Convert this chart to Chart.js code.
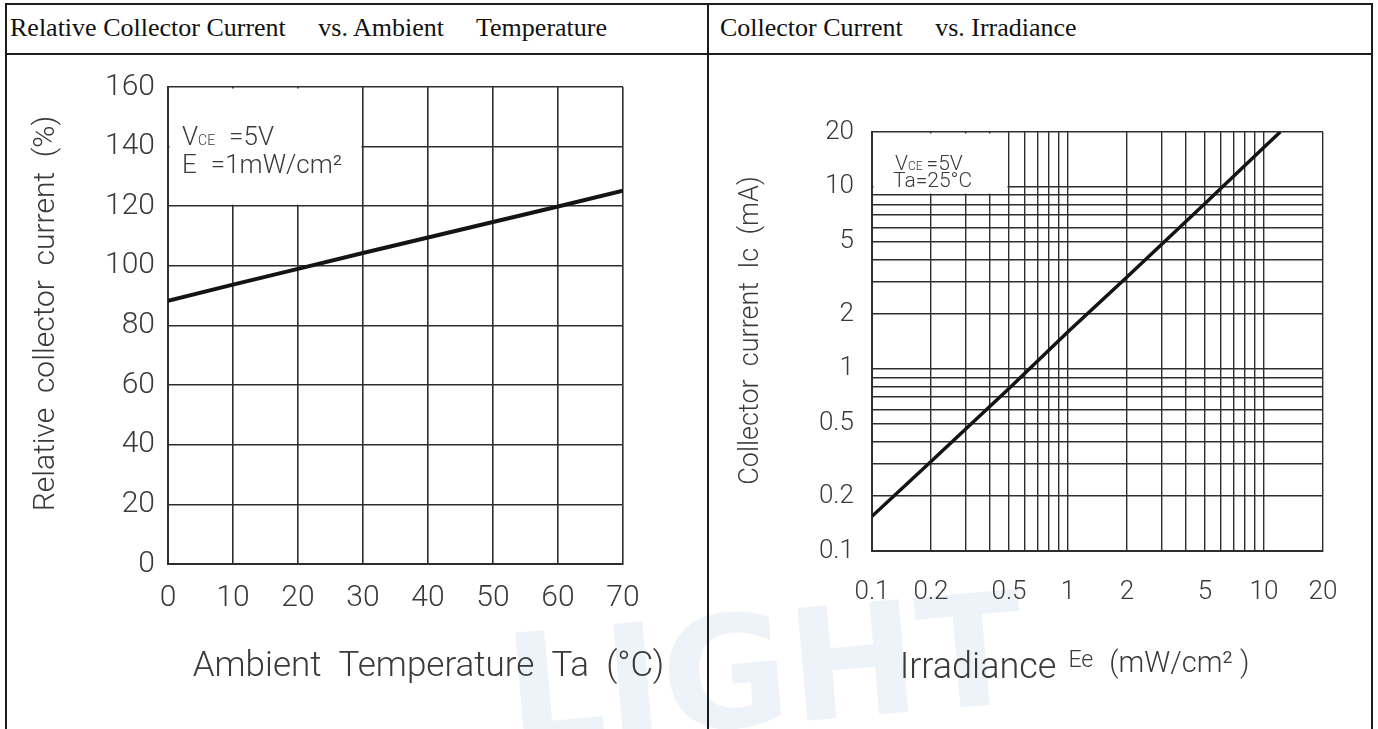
<!DOCTYPE html>
<html>
<head>
<meta charset="utf-8">
<script src="https://cdn.jsdelivr.net/npm/chart.js@4.4.1/dist/chart.umd.min.js"></script>
<style>
  html, body { margin: 0; padding: 0; background: #fff; }
  #page { position: relative; width: 1378px; height: 729px; overflow: hidden; }
  .rule { position: absolute; background: #1c1c1c; }
  .head { position: absolute; top: 13px; font: 26px "Liberation Serif", "Times New Roman", serif;
          color: #111; white-space: pre; line-height: 30px; }
  .wm { position: absolute; left: 505px; top: 580px; font: bold 155px "DejaVu Sans", sans-serif;
        color: #edf3f9; transform: rotate(-5deg); white-space: pre; }
  canvas { position: absolute; top: 56px; }
</style>
</head>
<body>
<div id="page">
  <div class="wm">LIGHT</div>

  <div class="rule" style="left:5px;top:3px;width:1368px;height:2px"></div>
  <div class="rule" style="left:5px;top:53px;width:1368px;height:2px"></div>
  <div class="rule" style="left:5px;top:3px;width:2px;height:726px"></div>
  <div class="rule" style="left:707px;top:3px;width:2px;height:726px"></div>
  <div class="rule" style="left:1371px;top:3px;width:2px;height:726px"></div>

  <div class="head" style="left:10px">Relative Collector Current     vs. Ambient     Temperature</div>
  <div class="head" style="left:720px">Collector Current     vs. Irradiance</div>

  <canvas id="tempChart" width="698" height="673" style="left:7px"></canvas>
  <canvas id="irrChart" width="661" height="673" style="left:709px"></canvas>
</div>

<script>
// left: relative collector current vs ambient temperature
const tempC = [0, 10, 20, 30, 40, 50, 60, 70];
const relCurrent = [88.3, 93.7, 99.0, 104.3, 109.5, 114.7, 119.9, 125.2];

// right: collector current vs irradiance (log-log)
const irradiance = [0.1, 0.2, 0.5, 1, 2, 5, 10, 12.1];
const collectorMA = [0.155, 0.31, 0.78, 1.6, 3.2, 8.1, 16.5, 20];
const logGrid = [0.1, 0.2, 0.3, 0.4, 0.5, 0.6, 0.7, 0.8, 0.9, 1, 2, 3, 4, 5, 6, 7, 8, 9, 10, 20];
const logLabels = [0.1, 0.2, 0.5, 1, 2, 5, 10, 20];

const FONT = 'Roboto, "DejaVu Sans", sans-serif';
const INK = '#3a3a3a';
const GRID = '#2e2e2e';

Chart.defaults.font.family = FONT;
Chart.defaults.font.weight = '300';
Chart.defaults.color = INK;

function drawRuns(ctx, runs, x, y, center) {
  let w = 0;
  runs.forEach(r => {
    ctx.font = `300 ${r.size}px ${FONT}`;
    w += ctx.measureText(r.text).width + (r.dx || 0);
  });
  let cx = center ? x - w / 2 : x;
  runs.forEach(r => {
    ctx.font = `300 ${r.size}px ${FONT}`;
    cx += r.dx || 0;
    ctx.fillText(r.text, cx, y + (r.dy || 0));
    cx += ctx.measureText(r.text).width;
  });
}

// white-out the condition box in the corner, write its text, and draw the axis titles
const decor = {
  id: 'decor',
  beforeDatasetsDraw(chart, args, opts) {
    const { ctx, scales: { x, y } } = chart;
    const b = opts.box;
    const l = x.getPixelForValue(b.x0), r = x.getPixelForValue(b.x1);
    const t = y.getPixelForValue(b.y1), bt = y.getPixelForValue(b.y0);
    ctx.save();
    ctx.fillStyle = '#fff';
    ctx.fillRect(l + 1.5, t + 1.5, r - l - 3, bt - t - 3);
    ctx.fillStyle = INK;
    ctx.textBaseline = 'alphabetic';
    b.lines.forEach(line => drawRuns(ctx, line.runs, l + line.x, t + line.y, false));
    ctx.restore();
  },
  afterDraw(chart, args, opts) {
    const { ctx, chartArea: a } = chart;
    ctx.save();
    ctx.fillStyle = INK;
    const xt = opts.xTitle;
    ctx.textBaseline = 'alphabetic';
    drawRuns(ctx, xt.runs, (a.left + a.right) / 2 + xt.dx, a.bottom + xt.dy, true);
    const yt = opts.yTitle;
    ctx.translate(a.left + yt.dx, (a.top + a.bottom) / 2 + yt.dy);
    ctx.rotate(-Math.PI / 2);
    ctx.textBaseline = 'middle';
    drawRuns(ctx, yt.runs, 0, 0, true);
    ctx.restore();
  }
};

new Chart(document.getElementById('tempChart'), {
  type: 'line',
  data: {
    datasets: [{
      data: tempC.map((t, i) => ({ x: t, y: relCurrent[i] })),
      borderColor: '#141414',
      borderWidth: 4,
      pointRadius: 0,
      tension: 0
    }]
  },
  plugins: [decor],
  options: {
    responsive: false,
    animation: false,
    layout: { padding: { left: 0, top: 26, right: 82, bottom: 0 } },
    plugins: {
      legend: { display: false },
      tooltip: { enabled: false },
      decor: {
        box: {
          x0: 0, x1: 30, y0: 120, y1: 160,
          lines: [
            { x: 14, y: 58, runs: [{ text: 'V', size: 26 }, { text: 'CE', size: 14 }, { text: '=5V', size: 26, dx: 14 }] },
            { x: 14, y: 86, runs: [{ text: 'E', size: 26 }, { text: '=1mW/cm²', size: 26, dx: 14 }] }
          ]
        },
        xTitle: { runs: [{ text: 'Ambient  Temperature  Ta  (°C)', size: 35 }], dx: 33, dy: 112 },
        yTitle: { runs: [{ text: 'Relative  collector  current  (%)', size: 30 }], dx: -122, dy: -12 }
      }
    },
    scales: {
      x: {
        type: 'linear', min: 0, max: 70,
        afterFit: s => { s.height = 165; },
        ticks: { stepSize: 10, padding: 16, font: { size: 30 }, maxRotation: 0 },
        grid: { color: GRID, lineWidth: 1.6, drawTicks: false },
        border: { color: GRID, width: 2 }
      },
      y: {
        type: 'linear', min: 0, max: 160,
        afterFit: s => { s.width = 161; },
        ticks: { stepSize: 20, padding: 13, font: { size: 30 } },
        grid: { color: GRID, lineWidth: 1.6, drawTicks: false },
        border: { color: GRID, width: 2 }
      }
    }
  }
});

new Chart(document.getElementById('irrChart'), {
  type: 'line',
  data: {
    datasets: [{
      data: irradiance.map((e, i) => ({ x: e, y: collectorMA[i] })),
      borderColor: '#141414',
      borderWidth: 3.5,
      pointRadius: 0,
      tension: 0
    }]
  },
  plugins: [decor],
  options: {
    responsive: false,
    animation: false,
    layout: { padding: { left: 0, top: 76, right: 47, bottom: 0 } },
    plugins: {
      legend: { display: false },
      tooltip: { enabled: false },
      decor: {
        box: {
          x0: 0.1, x1: 0.5, y0: 9, y1: 20,
          lines: [
            { x: 23, y: 38, runs: [{ text: 'V', size: 21 }, { text: 'CE', size: 12 }, { text: '=5V', size: 21, dx: 4 }] },
            { x: 21, y: 55, runs: [{ text: 'Ta=25°C', size: 21 }] }
          ]
        },
        xTitle: {
          runs: [
            { text: 'Irradiance', size: 36 },
            { text: 'Ee', size: 23, dx: 12, dy: -11 },
            { text: '(mW/cm² )', size: 29, dx: 16, dy: -6 }
          ],
          dx: -23, dy: 127
        },
        yTitle: { runs: [{ text: 'Collector  current  Ic  (mA)', size: 27 }], dx: -121, dy: -11 }
      }
    },
    scales: {
      x: {
        type: 'logarithmic', min: 0.1, max: 20,
        afterFit: s => { s.height = 178; },
        afterBuildTicks: s => { s.ticks = logGrid.map(v => ({ value: v })); },
        ticks: {
          autoSkip: false, maxRotation: 0, padding: 26, font: { size: 26 },
          callback: v => logLabels.includes(v) ? String(v) : ''
        },
        grid: { color: GRID, lineWidth: 1.4, drawTicks: false },
        border: { color: GRID, width: 2 }
      },
      y: {
        type: 'logarithmic', min: 0.1, max: 20,
        afterFit: s => { s.width = 163; },
        afterBuildTicks: s => { s.ticks = logGrid.map(v => ({ value: v })); },
        ticks: {
          autoSkip: false, padding: 18, font: { size: 26 },
          callback: v => logLabels.includes(v) ? String(v) : ''
        },
        grid: { color: GRID, lineWidth: 1.4, drawTicks: false },
        border: { color: GRID, width: 2 }
      }
    }
  }
});
</script>
</body>
</html>
